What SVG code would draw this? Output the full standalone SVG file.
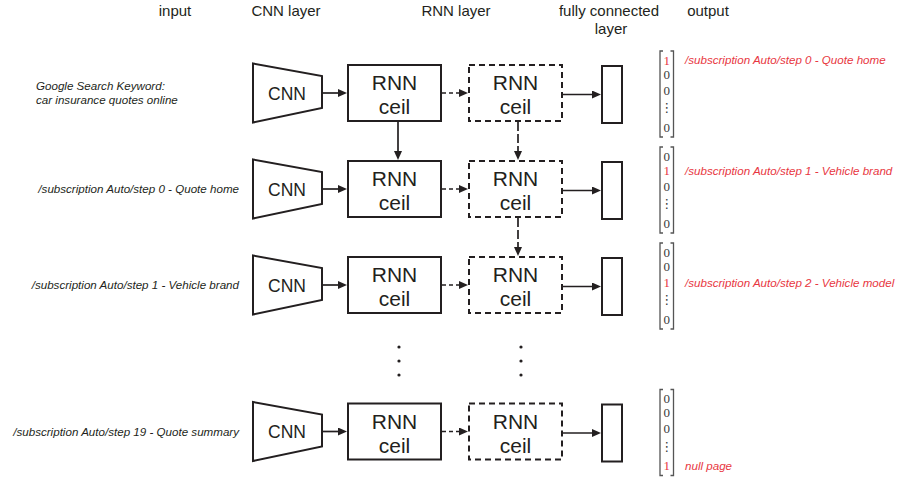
<svg xmlns="http://www.w3.org/2000/svg" width="899" height="480" viewBox="0 0 899 480">
<style>
.hdr{font-family:"Liberation Sans",Arial,sans-serif;font-size:15px;fill:#231f20;text-anchor:middle}
.lbl{font-family:"Liberation Sans",Arial,sans-serif;font-size:11.6px;font-style:italic;fill:#231f20}
.red{font-family:"Liberation Sans",Arial,sans-serif;font-size:11.6px;font-style:italic;fill:#e8373f}
.cnn{fill:#fff;stroke:#231f20;stroke-width:2}
.box{fill:#fff;stroke:#231f20;stroke-width:2}
.dbox{fill:#fff;stroke:#231f20;stroke-width:2;stroke-dasharray:6 4}
.big{font-family:"Liberation Sans",Arial,sans-serif;font-size:21px;fill:#231f20;text-anchor:middle}
.cnnt{font-family:"Liberation Sans",Arial,sans-serif;font-size:17.5px;fill:#231f20;text-anchor:middle}
.arr{stroke:#231f20;stroke-width:1.7;fill:none;marker-end:url(#ah)}
.darr{stroke:#231f20;stroke-width:1.7;fill:none;stroke-dasharray:4 3;marker-end:url(#ah)}
.vdarr{stroke:#231f20;stroke-width:1.7;fill:none;stroke-dasharray:9 3;marker-end:url(#ah)}
.num{font-family:"Liberation Serif","DejaVu Serif",serif;font-size:13px;fill:#3a3a3a;text-anchor:middle}
.numr{font-family:"Liberation Serif","DejaVu Serif",serif;font-size:13px;fill:#e8373f;text-anchor:middle}
.vd{font-family:"DejaVu Sans",sans-serif;font-size:13px;fill:#3a3a3a;text-anchor:middle}
.brk{stroke:#555;stroke-width:1.3;fill:none}
.dot{fill:#231f20}
</style>
<defs>
<marker id="ah" markerUnits="userSpaceOnUse" markerWidth="9" markerHeight="8" refX="5" refY="4" orient="auto">
<path d="M0,0 L9,4 L0,8 z" fill="#231f20"/>
</marker>
</defs>

<g id="headers">
<text class="hdr" x="175" y="16">input</text>
<text class="hdr" x="286" y="16">CNN layer</text>
<text class="hdr" x="456" y="16">RNN layer</text>
<text class="hdr" x="609" y="16">fully connected</text>
<text class="hdr" x="611" y="34">layer</text>
<text class="hdr" x="708" y="16">output</text>
</g>

<g id="inputs">
<text class="lbl" x="36" y="90">Google Search Keyword:</text>
<text class="lbl" x="36" y="104">car insurance quotes online</text>
<text class="lbl" x="239" y="193" text-anchor="end">/subscription Auto/step 0 - Quote home</text>
<text class="lbl" x="239" y="289" text-anchor="end">/subscription Auto/step 1 - Vehicle brand</text>
<text class="lbl" x="239" y="435.5" text-anchor="end">/subscription Auto/step 19 - Quote summary</text>
</g>

<g id="cnn1"><polygon class="cnn" points="253,63.5 322,76 322,108 253,122.5"/><text class="cnnt" x="287" y="99.5">CNN</text></g>
<g id="cnn2"><polygon class="cnn" points="253,159.5 322,172 322,204 253,218.5"/><text class="cnnt" x="287" y="195.5">CNN</text></g>
<g id="cnn3"><polygon class="cnn" points="253,255.5 322,268 322,300 253,314.5"/><text class="cnnt" x="287" y="291.5">CNN</text></g>
<g id="cnn4"><polygon class="cnn" points="253,402 322,414.5 322,446.5 253,461"/><text class="cnnt" x="287" y="438">CNN</text></g>

<g id="rnnA1"><rect class="box" x="348" y="65" width="93" height="56"/><text class="big" x="394.5" y="90">RNN</text><text class="big" x="394.5" y="114">ceil</text></g>
<g id="rnnA2"><rect class="box" x="348" y="161" width="93" height="56"/><text class="big" x="394.5" y="186">RNN</text><text class="big" x="394.5" y="210">ceil</text></g>
<g id="rnnA3"><rect class="box" x="348" y="257" width="93" height="56"/><text class="big" x="394.5" y="282">RNN</text><text class="big" x="394.5" y="306">ceil</text></g>
<g id="rnnA4"><rect class="box" x="348" y="403.5" width="93" height="56"/><text class="big" x="394.5" y="428.5">RNN</text><text class="big" x="394.5" y="452.5">ceil</text></g>

<g id="rnnB1"><rect class="dbox" x="469" y="65" width="93" height="56"/><text class="big" x="515.5" y="90">RNN</text><text class="big" x="515.5" y="114">ceil</text></g>
<g id="rnnB2"><rect class="dbox" x="469" y="161" width="93" height="56"/><text class="big" x="515.5" y="186">RNN</text><text class="big" x="515.5" y="210">ceil</text></g>
<g id="rnnB3"><rect class="dbox" x="469" y="257" width="93" height="56"/><text class="big" x="515.5" y="282">RNN</text><text class="big" x="515.5" y="306">ceil</text></g>
<g id="rnnB4"><rect class="dbox" x="469" y="403.5" width="93" height="56"/><text class="big" x="515.5" y="428.5">RNN</text><text class="big" x="515.5" y="452.5">ceil</text></g>

<g id="fc1"><rect class="box" x="602" y="66" width="20" height="57"/></g>
<g id="fc2"><rect class="box" x="602" y="162" width="20" height="57"/></g>
<g id="fc3"><rect class="box" x="602" y="258" width="20" height="57"/></g>
<g id="fc4"><rect class="box" x="602" y="404.5" width="20" height="57"/></g>

<g id="ellipsis">
<circle class="dot" cx="399" cy="347" r="1.6"/><circle class="dot" cx="399" cy="361" r="1.6"/><circle class="dot" cx="399" cy="375" r="1.6"/>
<circle class="dot" cx="521" cy="347" r="1.6"/><circle class="dot" cx="521" cy="361" r="1.6"/><circle class="dot" cx="521" cy="375" r="1.6"/>
</g>

<g id="connectors">
<line class="arr" x1="322" y1="93" x2="343" y2="93"/>
<line class="arr" x1="322" y1="189" x2="343" y2="189"/>
<line class="arr" x1="322" y1="285" x2="343" y2="285"/>
<line class="arr" x1="322" y1="431.5" x2="343" y2="431.5"/>
<line class="darr" x1="442" y1="93" x2="464" y2="93"/>
<line class="darr" x1="442" y1="189" x2="464" y2="189"/>
<line class="darr" x1="442" y1="285" x2="464" y2="285"/>
<line class="darr" x1="442" y1="431.5" x2="464" y2="431.5"/>
<line class="arr" x1="563" y1="94.5" x2="597" y2="94.5"/>
<line class="arr" x1="563" y1="190.5" x2="597" y2="190.5"/>
<line class="arr" x1="563" y1="286.5" x2="597" y2="286.5"/>
<line class="arr" x1="563" y1="433" x2="597" y2="433"/>
<line class="arr" x1="398" y1="121" x2="398" y2="156"/>
<line class="vdarr" x1="518" y1="122" x2="518" y2="156"/>
<line class="vdarr" x1="518" y1="218" x2="518" y2="252"/>
</g>

<g id="out1">
<path class="brk" d="M663,51 H660 V137 H663 M670.5,51 H673.5 V137 H670.5"/>
<text class="numr" x="666.8" y="64.5">1</text><text class="num" x="666.8" y="78.5">0</text><text class="num" x="666.8" y="94.5">0</text><text class="vd" x="666.8" y="112">⋮</text><text class="num" x="666.8" y="131.5">0</text>
<text class="red" x="685" y="63.5">/subscription Auto/step 0 - Quote home</text>
</g>
<g id="out2">
<path class="brk" d="M663,147 H660 V233 H663 M670.5,147 H673.5 V233 H670.5"/>
<text class="num" x="666.8" y="160.5">0</text><text class="numr" x="666.8" y="174.5">1</text><text class="num" x="666.8" y="190.5">0</text><text class="vd" x="666.8" y="208">⋮</text><text class="num" x="666.8" y="227.5">0</text>
<text class="red" x="685" y="174.5">/subscription Auto/step 1 - Vehicle brand</text>
</g>
<g id="out3">
<path class="brk" d="M663,243 H660 V329 H663 M670.5,243 H673.5 V329 H670.5"/>
<text class="num" x="666.8" y="256.5">0</text><text class="num" x="666.8" y="270.5">0</text><text class="numr" x="666.8" y="286.5">1</text><text class="vd" x="666.8" y="304">⋮</text><text class="num" x="666.8" y="323.5">0</text>
<text class="red" x="685" y="286.5">/subscription Auto/step 2 - Vehicle model</text>
</g>
<g id="out4">
<path class="brk" d="M663,389.5 H660 V475.5 H663 M670.5,389.5 H673.5 V475.5 H670.5"/>
<text class="num" x="666.8" y="403">0</text><text class="num" x="666.8" y="417">0</text><text class="num" x="666.8" y="433">0</text><text class="vd" x="666.8" y="450.5">⋮</text><text class="numr" x="666.8" y="470">1</text>
<text class="red" x="685" y="470">null page</text>
</g>
</svg>
